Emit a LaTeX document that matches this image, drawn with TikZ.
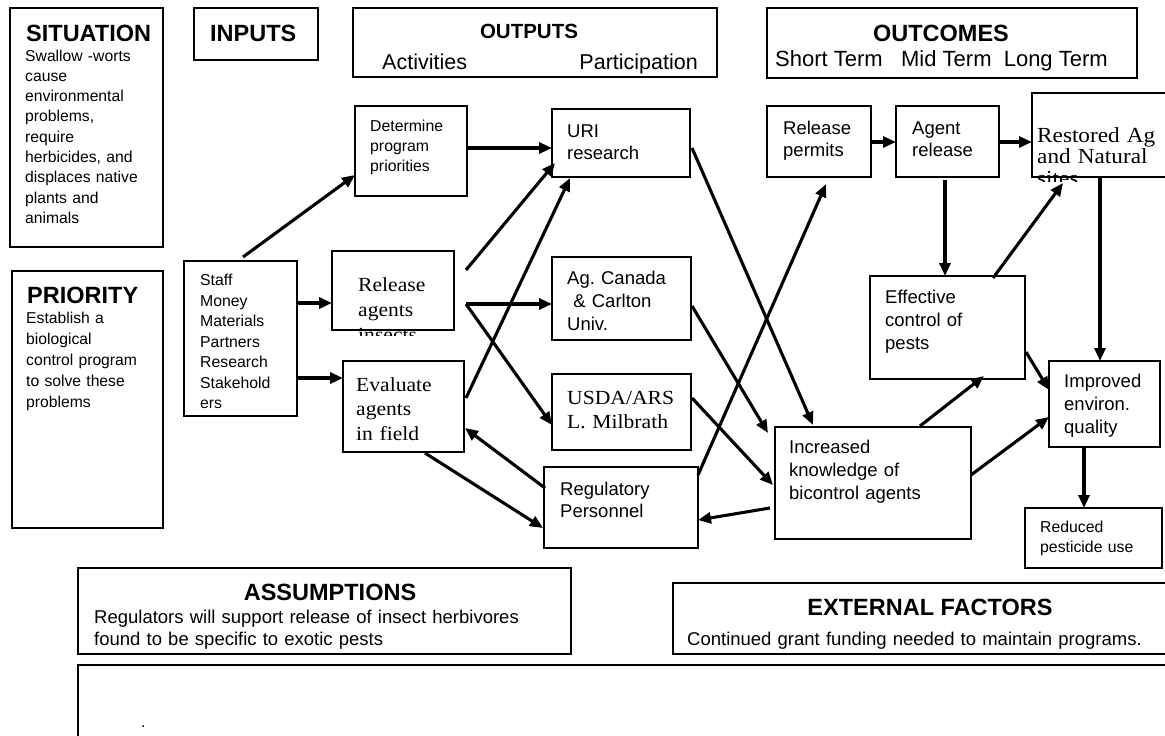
\documentclass[tikz,border=0pt]{standalone}
\usepackage{fontspec}
\setmainfont{Liberation Sans}
\newfontfamily\cam[FakeStretch=1.08]{Liberation Serif}
\usetikzlibrary{arrows.meta,calc}
\newcommand{\myfs}[2]{\fontsize{#1}{#2}\selectfont}
\frenchspacing
\begin{document}
\begin{tikzpicture}[x=1pt,y=-1pt,
  box/.style={draw, line width=1.3pt, inner sep=0pt, outer sep=0pt, anchor=north west},
  ttl/.style={anchor=base west, inner sep=0pt, font=\bfseries\myfs{23.5}{28}},
  ctl/.style={anchor=base, inner sep=0pt, font=\bfseries\myfs{23.5}{28}},
  sm/.style={anchor=base west, inner sep=0pt, align=left, text width=700pt, font=\myfs{15.8}{20.4}},
  md/.style={anchor=base west, inner sep=0pt, align=left, text width=700pt, font=\myfs{18.5}{22.8}},
  sr/.style={anchor=base west, inner sep=0pt, align=left, text width=700pt, font=\cam\myfs{20}{24.6}},
  arr/.style={line width=3.1pt, -{Triangle[length=13pt,width=11pt]}}
]
\useasboundingbox (0,0) rectangle (1165,736);
\fill[white] (0,0) rectangle (1165,736);
\clip (0,0) rectangle (1165,736);

% ---------- header boxes ----------
\node[box, minimum width=153pt, minimum height=239pt] (sit) at (10,8) {};
\node[ttl] (sitT) at (26,41) {SITUATION};
\node[sm, font=\myfs{15.7}{20.3}] (sitB) at (25,61) {Swallow -worts\\cause\\environmental\\problems,\\require\\herbicides, and\\displaces native\\plants and\\animals};

\node[box, minimum width=124pt, minimum height=52pt] (inp) at (194,8) {};
\node[ttl] (inpT) at (210,41) {INPUTS};

\node[box, minimum width=364pt, minimum height=69pt] (outp) at (353,8) {};
\node[anchor=base, inner sep=0pt, font=\bfseries\myfs{20.5}{24}] (outpT) at (529,38.5) {OUTPUTS};
\node[anchor=base west, inner sep=0pt, font=\myfs{21.5}{26}] (actT) at (382,69) {Activities};
\node[anchor=base east, inner sep=0pt, font=\myfs{21.5}{26}] (parT) at (698,69) {Participation};

\node[box, minimum width=370pt, minimum height=70pt] (outc) at (767,8) {};
\node[ctl] (outcT) at (941,41.5) {OUTCOMES};
\node[anchor=base west, inner sep=0pt, font=\myfs{22}{26}] (termT) at (775,66) {Short Term\ \ \ Mid Term\ \ Long Term};

\node[box, minimum width=151pt, minimum height=257pt] (pri) at (12,271) {};
\node[ttl] (priT) at (27,303) {PRIORITY};
\node[sm, font=\myfs{15.7}{21}] (priB) at (26,323) {Establish a\\biological\\control program\\to solve these\\problems};

% ---------- inputs / activities ----------
\node[box, minimum width=113pt, minimum height=155pt] (staff) at (184,261) {};
\node[sm, font=\myfs{15.8}{20.5}] (staffT) at (200,285.5) {Staff\\Money\\Materials\\Partners\\Research\\Stakehold\\ers};

\node[box, minimum width=112pt, minimum height=90pt] (det) at (355,106) {};
\node[sm] (detT) at (370,131) {Determine\\program\\priorities};

\node[box, minimum width=122pt, minimum height=79pt] (rel) at (332,251) {};
\begin{scope}
  \clip (333,252) rectangle (454,335.5);
  \node[sr, font=\cam\myfs{20}{25}] (relT) at (358,291) {Release\\agents\\insects};
\end{scope}

\node[box, minimum width=121pt, minimum height=91pt] (evl) at (343,361) {};
\node[sr, font=\cam\myfs{20}{24.5}] (evlT) at (356,391) {Evaluate\\agents\\in field};

% ---------- participation ----------
\node[box, minimum width=138pt, minimum height=68pt] (uri) at (552,109) {};
\node[md, font=\myfs{18.5}{22.5}] (uriT) at (567,137) {URI\\research};

\node[box, minimum width=139pt, minimum height=83pt] (agc) at (552,257) {};
\node[md, font=\myfs{18.5}{23}] (agcT) at (567,284.5) {Ag. Canada\\\ \& Carlton\\Univ.};

\node[box, minimum width=139pt, minimum height=76pt] (usda) at (552,374) {};
\node[sr, font=\cam\myfs{20}{24.5}] (usdaT) at (567,404) {USDA/ARS\\L. Milbrath};

\node[box, minimum width=154pt, minimum height=81pt] (reg) at (544,467) {};
\node[md, font=\myfs{18.5}{22.5}] (regT) at (560,495) {Regulatory\\Personnel};

% ---------- outcomes ----------
\node[box, minimum width=104pt, minimum height=71pt] (rp) at (767,106) {};
\node[md, font=\myfs{18.5}{21.5}] (rpT) at (783,134.5) {Release\\permits};

\node[box, minimum width=103pt, minimum height=71pt] (ar) at (896,106) {};
\node[md, font=\myfs{18.5}{21.5}] (arT) at (912,134.5) {Agent\\release};

\node[box, minimum width=160pt, minimum height=84pt] (rest) at (1032,93) {};
\begin{scope}
  \clip (1033,94) rectangle (1165,181.5);
  \node[sr, font=\cam\myfs{21.5}{21.5}] (restT) at (1037,142) {Restored Ag\\and Natural\\sites};
\end{scope}

\node[box, minimum width=155pt, minimum height=103pt] (eff) at (870,276) {};
\node[md, font=\myfs{18.5}{23}] (effT) at (885,303) {Effective\\control of\\pests};

\node[box, minimum width=196pt, minimum height=112pt] (inc) at (775,427) {};
\node[md, font=\myfs{18.5}{23}] (incT) at (789,453) {Increased\\knowledge of\\bicontrol agents};

\node[box, minimum width=111pt, minimum height=86pt] (imp) at (1049,361) {};
\node[md, font=\myfs{18.5}{23}] (impT) at (1064,387) {Improved\\environ.\\quality};

\node[box, minimum width=137pt, minimum height=60pt] (red) at (1025,508) {};
\node[sm, font=\myfs{15.8}{20}] (redT) at (1040,532) {Reduced\\pesticide use};

% ---------- bottom boxes ----------
\node[box, minimum width=493pt, minimum height=86pt] (ass) at (78,568) {};
\node[ctl] (assT) at (330,600) {ASSUMPTIONS};
\node[md, font=\myfs{18.5}{22}] (assB) at (94,623) {Regulators will support release of insect herbivores\\found to be specific to exotic pests};

\node[box, minimum width=520pt, minimum height=71pt] (ext) at (673,583) {};
\node[ctl] (extT) at (930,615) {EXTERNAL FACTORS};
\node[md, font=\myfs{18.5}{22}] (extB) at (687,645) {Continued grant funding needed to maintain programs.};

\node[box, minimum width=1110pt, minimum height=90pt] (bot) at (78,665) {};
\node[anchor=base west, inner sep=0pt, font=\myfs{15.8}{20}] (dotT) at (141,727) {.};

% ---------- connectors ----------
\draw[arr] ($(staff.north west)+(59,-4)$) -- ($(det.north west)+(0,69)$);
\draw[arr] ($(det.north west)+(112,42)$) -- ($(uri.north west)+(0,39)$);
\draw[arr] ($(staff.north west)+(113,42)$) -- ($(rel.north west)+(0,52)$);
\draw[arr] ($(staff.north west)+(113,117)$) -- ($(evl.north west)+(0,17)$);
\draw[arr] ($(rel.north west)+(134,19)$) -- ($(uri.north west)+(3,54)$);
\draw[arr] ($(rel.north west)+(134,53)$) -- ($(agc.north west)+(0,47)$);
\draw[arr] ($(rel.north west)+(134,53)$) -- ($(usda.north west)+(0,51)$);
\draw[arr] ($(evl.north west)+(123,37)$) -- ($(uri.north west)+(18,69)$);
\draw[arr] ($(evl.north west)+(82,92)$) -- ($(reg.north west)+(-1,61)$);
\draw[arr] ($(reg.north west)+(1,21)$) -- ($(evl.north west)+(122,67)$);
\draw[arr] ($(uri.north west)+(140,39)$) -- ($(inc.north west)+(38,-2)$);
\draw[arr] ($(agc.north west)+(140,49)$) -- ($(inc.north west)+(-7,6)$);
\draw[arr] ($(usda.north west)+(140,24)$) -- ($(inc.north west)+(-2,58)$);
\draw[arr] ($(reg.north west)+(154,8)$) -- ($(rp.north west)+(59,78)$);
\draw[arr] ($(inc.north west)+(-5,81)$) -- ($(reg.north west)+(154,53)$);
\draw[arr] ($(rp.north west)+(104,36)$) -- ($(ar.north west)+(0,36)$);
\draw[arr] ($(ar.north west)+(103,36)$) -- ($(rest.north west)+(0,49)$);
\draw[arr] ($(ar.north west)+(49,74)$) -- ($(eff.north west)+(75,0)$);
\draw[arr] ($(eff.north west)+(123,2)$) -- ($(rest.north west)+(31,90)$);
\draw[arr] ($(rest.north west)+(68,85)$) -- ($(imp.north west)+(51,0)$);
\draw[arr] ($(eff.north west)+(156,76)$) -- ($(imp.north west)+(0,29)$);
\draw[arr] ($(inc.north west)+(145,-1)$) -- ($(eff.north west)+(114,100)$);
\draw[arr] ($(inc.north west)+(196,48)$) -- ($(imp.north west)+(0,56)$);
\draw[arr] ($(imp.north west)+(35,86)$) -- ($(red.north west)+(59,0)$);
\end{tikzpicture}
\end{document}
